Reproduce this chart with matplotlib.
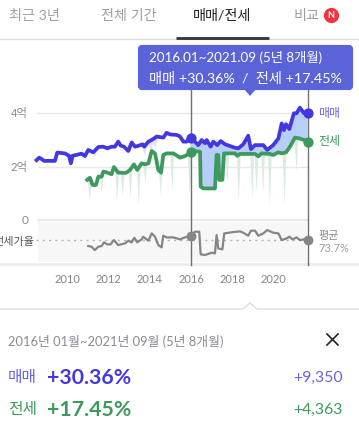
import numpy as np
import matplotlib
matplotlib.use('Agg')
import matplotlib.pyplot as plt
from matplotlib.patches import FancyBboxPatch, Polygon

plt.rcParams['font.family'] = ['Lato', 'Noto Sans CJK KR', 'DejaVu Sans']

# 매매가 (억)
sale_years = [2008.53, 2008.66, 2008.77, 2008.89, 2009.42, 2009.53, 2009.90, 2010.10, 2010.19, 2010.27,
              2010.71, 2010.87, 2011.03, 2011.27, 2011.52, 2011.76, 2011.95, 2012.16, 2012.32, 2012.48,
              2012.60, 2012.76, 2012.97, 2013.13, 2013.29, 2013.48, 2013.66, 2013.74, 2013.94, 2014.18,
              2014.34, 2014.66, 2014.82, 2014.98, 2015.31, 2015.47, 2015.63, 2015.79, 2016.00, 2016.19,
              2016.35, 2016.52, 2016.68, 2016.76, 2016.95, 2017.08, 2017.27, 2017.44, 2017.65, 2018.13,
              2018.29, 2018.53, 2018.77, 2018.90, 2019.10, 2019.50, 2019.69, 2019.98, 2020.23, 2020.39,
              2020.50, 2020.60, 2020.76, 2020.98, 2021.11, 2021.27, 2021.47, 2021.65]
sale = [2.24, 2.33, 2.28, 2.21, 2.21, 2.52, 2.49, 2.40, 2.12, 2.40,
        2.48, 2.39, 2.62, 2.53, 2.73, 2.74, 2.68, 2.74, 2.74, 2.93,
        2.78, 2.74, 2.58, 2.90, 2.74, 2.78, 2.83, 2.74, 2.93, 3.03,
        3.12, 3.08, 3.26, 3.20, 3.18, 3.12, 2.93, 2.93, 3.08, 2.93,
        2.80, 2.99, 2.87, 2.99, 2.74, 2.93, 2.80, 2.95, 2.83, 2.70,
        2.68, 2.83, 3.15, 2.65, 2.80, 2.80, 2.62, 2.80, 3.05, 3.61,
        3.36, 3.58, 3.40, 3.99, 3.99, 4.20, 3.99, 4.01]

# 전세가 (억)
rent_years = [2010.98, 2011.11, 2011.24, 2011.40, 2011.52, 2011.68, 2011.76, 2011.92, 2012.16, 2012.27,
              2012.48, 2012.85, 2013.05, 2013.24, 2013.40, 2013.61, 2013.77, 2013.94, 2014.10, 2014.26,
              2014.42, 2014.55, 2014.66, 2014.82, 2015.15, 2015.39, 2015.47, 2015.71, 2016.00, 2016.19,
              2016.44, 2016.47, 2016.60, 2017.16, 2017.24, 2017.32, 2017.37, 2017.52, 2017.60, 2018.13,
              2018.24, 2018.37, 2019.10, 2019.26, 2019.42, 2019.82, 2019.98, 2020.23, 2020.39, 2020.60,
              2020.79, 2021.03, 2021.24, 2021.47, 2021.65]
rent = [1.50, 1.58, 1.31, 1.31, 1.62, 1.62, 1.81, 1.78, 1.71, 1.98,
        1.77, 1.76, 1.87, 2.08, 1.87, 2.12, 2.08, 2.12, 2.58, 2.49,
        1.87, 1.77, 2.43, 2.49, 2.49, 2.37, 2.33, 2.39, 2.53, 2.58,
        2.55, 1.25, 1.18, 1.18, 2.43, 2.43, 1.50, 1.50, 2.49, 2.49,
        2.40, 2.47, 2.47, 2.38, 2.49, 2.47, 2.43, 2.53, 2.49, 2.53,
        2.74, 3.08, 3.05, 2.99, 2.93]

# 전세 저가 거래 스파이크
rent_spike_years = [2011.08, 2011.66, 2012.40, 2012.67, 2013.05, 2013.45, 2013.77, 2014.52, 2015.07, 2015.92,
                    2017.73, 2018.29, 2018.94, 2019.15, 2019.47, 2019.79, 2020.50, 2021.08]
rent_spike_low = [0.68, 1.03, 0.68, 0.93, 0.81, 0.56, 1.43, 0.93, 1.06, 0.93,
                  1.31, 0.68, 0.81, 1.06, 1.06, 0.56, 0.56, 1.81]

# 매매 저가 거래 스파이크
sale_spike_years = [2011.33, 2012.90, 2013.75, 2014.05, 2014.25]
sale_spike_low = [2.35, 2.50, 2.42, 2.55, 2.70]

# 전세가율 (%)
ratio_years = [2011.03, 2011.19, 2011.35, 2011.52, 2011.68, 2011.79, 2011.95, 2012.11, 2012.27, 2012.48,
               2012.81, 2012.97, 2013.13, 2013.26, 2013.40, 2013.61, 2013.69, 2013.94, 2014.10, 2014.26,
               2014.42, 2014.58, 2014.66, 2014.82, 2015.15, 2015.47, 2015.71, 2016.00, 2016.19, 2016.40,
               2016.47, 2016.68, 2017.00, 2017.16, 2017.24, 2017.32, 2017.52, 2017.61, 2018.05, 2018.37,
               2018.53, 2018.77, 2018.90, 2019.10, 2019.26, 2019.50, 2019.69, 2019.98, 2020.23, 2020.39,
               2020.63, 2020.76, 2020.92, 2021.11, 2021.27, 2021.47, 2021.65]
ratio = [59.3, 57.8, 50.2, 57.8, 59.3, 67.6, 63.1, 63.1, 72.9, 61.6,
         65.4, 71.4, 67.6, 78.2, 67.6, 74.5, 80.5, 71.4, 88.1, 80.5,
         61.6, 56.3, 82.8, 78.9, 78.9, 74.5, 79.0, 82.8, 91.9, 91.9,
         40.4, 38.9, 44.2, 42.6, 84.3, 54.0, 51.7, 88.1, 91.1, 92.6,
         89.6, 82.8, 94.2, 94.2, 82.8, 88.1, 95.7, 89.6, 88.1, 72.9,
         76.7, 80.5, 74.5, 79.0, 72.9, 74.5, 73.7]
ratio_avg = 73.7

start_year, end_year = 2016.0, 2021.65
year_ticks = [2010, 2012, 2014, 2016, 2018, 2020]
tabs = ['최근 3년', '전체 기간', '매매/전세', '비교']

blue = '#4338e0'
green = '#3d9a5c'
grey = '#858585'

fig = plt.figure(figsize=(3.59, 4.40), dpi=100)

# 가격 축: 그림 전체를 덮고 리밋으로 위치를 맞춤
ax = fig.add_axes([0, 0, 1, 1], zorder=2)
ax.set_xlim(2006.76, 2024.13)
ax.set_ylim(-8.224, 8.224)
ax.axis('off')
ax.patch.set_alpha(0)

# 전세가율 축
ax_r = fig.add_axes([0, 0, 1, 1], zorder=3)
ax_r.set_xlim(2006.76, 2024.13)
ax_r.set_ylim(-381.5, 618.5)
ax_r.axis('off')
ax_r.patch.set_alpha(0)

# 화면 요소용 픽셀 축
ui = fig.add_axes([0, 0, 1, 1], zorder=1)
ui.set_xlim(0, 359)
ui.set_ylim(440, 0)
ui.axis('off')

top = fig.add_axes([0, 0, 1, 1], zorder=4)
top.set_xlim(0, 359)
top.set_ylim(440, 0)
top.axis('off')
top.patch.set_alpha(0)

# 탭
ui.plot([0, 359], [39.5, 39.5], color='#dddddd', lw=1)
ui.plot([176, 269], [38, 38], color='#333333', lw=2, solid_capstyle='butt')
for x, label, col in zip([34.5, 128.5, 222.5, 307], tabs, ['#a0a0a0', '#a0a0a0', '#222222', '#a0a0a0']):
    ui.text(x, 15.5, label, ha='center', va='center', fontsize=10.2, color=col)
ui.scatter([331], [15.5], s=120, color='#f5333f', lw=0)
ui.text(331, 15.5, 'N', ha='center', va='center', fontsize=6.5, color='white', fontweight='bold')

# 격자와 패널
for y in [113, 167]:
    ui.plot([38, 307], [y, y], color='#e8e8e8', lw=1)
ui.plot([38, 307], [220, 220], color='#e8e8e8', lw=1.5)
ui.fill_between([38, 307], 222.5, 262, color='#f7f7f7', lw=0)
ui.plot([0, 359], [264.5, 264.5], color='#ececec', lw=2)
ui.plot([0, 243, 250, 257, 359], [309, 309, 303, 309, 309], color='#dddddd', lw=1)
ui.fill([243, 250, 257], [309.5, 303, 309.5], color='white', lw=0)

ui.text(28, 113, '4억', ha='right', va='center', fontsize=8.2, color='#8a8a8a')
ui.text(28, 167, '2억', ha='right', va='center', fontsize=8.2, color='#8a8a8a')
ui.text(28, 220, '0', ha='right', va='center', fontsize=8.5, color='#8a8a8a')
ui.text(34, 241, '전세가율', ha='right', va='center', fontsize=8, color='#555555')

for year in year_ticks:
    ax.text(year, (220 - 279) / 26.75, str(year), ha='center', va='center', fontsize=8, color='#858585')

# 구간 세로선
ax.plot([start_year, start_year], [(220 - 89) / 26.75, (220 - 265) / 26.75], color='#707070', lw=1)
ax.plot([end_year, end_year], [(220 - 89) / 26.75, (220 - 265) / 26.75], color='#707070', lw=1)

# 스파이크
for y, low in zip(rent_spike_years, rent_spike_low):
    xs = [y - 0.09, y, y + 0.09]
    tops = np.interp(xs, rent_years, rent)
    ax.fill_between(xs, [tops[0], low, tops[2]], tops, color='#dcebe2', lw=0, zorder=1)
for y, low in zip(sale_spike_years, sale_spike_low):
    xs = [y - 0.14, y, y + 0.14]
    tops = np.interp(xs, sale_years, sale)
    ax.fill_between(xs, [tops[0], low, tops[2]], tops, color='#e2e0fa', lw=0, zorder=1)

# 선택 구간 음영
s_x = np.array(sale_years)
s_y = np.array(sale)
r_x = np.array(rent_years)
r_y = np.array(rent)
s_mask = (s_x >= start_year) & (s_x <= end_year)
r_mask = (r_x >= start_year) & (r_x <= end_year)
ax.fill(np.r_[s_x[s_mask], r_x[r_mask][::-1]], np.r_[s_y[s_mask], r_y[r_mask][::-1]],
        color='#b7cff8', lw=0, zorder=2)

ax.plot(sale_years, sale, color=blue, lw=2.7, zorder=3, solid_joinstyle='round')
ax.plot(rent_years, rent, color=green, lw=2.7, zorder=3, solid_joinstyle='round')
ax.scatter([start_year, end_year], [sale[sale_years.index(start_year)], sale[-1]], s=55, color=blue, lw=0, zorder=4)
ax.scatter([start_year, end_year], [rent[rent_years.index(start_year)], rent[-1]], s=55, color=green, lw=0, zorder=4)

# 전세가율
ax_r.plot([2008.5, end_year], [ratio_avg, ratio_avg], color='#b5b5b5', lw=1, ls=(0, (1.5, 3)))
ax_r.plot(ratio_years, ratio, color=grey, lw=1.6)
ax_r.scatter([start_year, end_year], [ratio[ratio_years.index(start_year)], ratio[-1]], s=50, color=grey, lw=0, zorder=4)

ui.text(318, 113, '매매', ha='left', va='center', fontsize=8.6, color='#6a62e8')
ui.text(318, 142, '전세', ha='left', va='center', fontsize=8.6, color=green)
ui.text(318, 236, '평균', ha='left', va='center', fontsize=8, color='#8a8a8a')
ui.text(318, 248, f'{ratio_avg}%', ha='left', va='center', fontsize=8, color='#a0a0a0')

# 툴팁
top.add_patch(FancyBboxPatch((140, 47), 211, 41, boxstyle='round,pad=0,rounding_size=2', fc='#5a63d8', ec='#5a63d8', lw=3))
top.add_patch(Polygon([[244, 89], [250, 96], [256, 89]], fc='#5a63d8', ec='none'))
top.text(149, 57, '2016.01~2021.09 (5년 8개월)', ha='left', va='center', fontsize=9.6, color='white')
top.text(149, 78, '매매 +30.36%  /  전세 +17.45%', ha='left', va='center', fontsize=10.3, color='white')

# 하단 요약
ui.text(8, 342, '2016년 01월~2021년 09월 (5년 8개월)', ha='left', va='center', fontsize=9.3, color='#8a8a96')
ui.plot([327, 338], [334, 345], color='#222222', lw=1.2)
ui.plot([338, 327], [334, 345], color='#222222', lw=1.2)
ui.text(8, 378, '매매', ha='left', va='center', fontsize=11.4, color='#6a62e8')
ui.text(47, 378, '+30.36%', ha='left', va='center', fontsize=15.3, fontweight='bold', color=blue)
ui.text(343, 378, '+9,350', ha='right', va='center', fontsize=11.4, color='#6a62e8')
ui.text(8, 410, '전세', ha='left', va='center', fontsize=11.4, color=green)
ui.text(47, 410, '+17.45%', ha='left', va='center', fontsize=15.3, fontweight='bold', color=green)
ui.text(343, 410, '+4,363', ha='right', va='center', fontsize=11.4, color=green)

fig.savefig('out.png', dpi=100)
